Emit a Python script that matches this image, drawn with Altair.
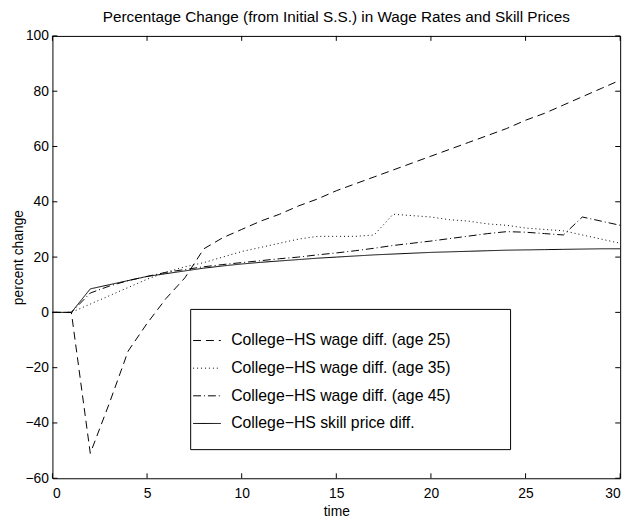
import altair as alt
import pandas as pd

times = list(range(0, 31))

age25 = [0, 0, -51, -33, -14, -4, 5, 12.5, 23, 27, 30, 33, 35.5, 38.5, 41, 44,
         46.5, 49, 51.5, 54, 56.5, 59, 61.5, 64, 66.5, 69.5, 72, 75, 78, 81, 84]
age35 = [0, 0, 3, 6, 9, 12, 14.5, 16.5, 18, 20, 22, 23.5, 25, 26.5, 27.5, 27.5,
         27.5, 28, 35.5, 35, 34.5, 33.5, 33, 32, 31.5, 30.5, 30, 29.5, 28, 26.5, 25]
age45 = [0, 0, 7, 9.5, 11.5, 13, 14.5, 15.5, 16.5, 17.3, 18, 18.7, 19.4, 20, 20.8,
         21.5, 22.3, 23.2, 24.2, 25, 25.8, 26.7, 27.6, 28.5, 29.2, 29, 28.5, 28,
         34.5, 33, 31.5]
skill = [0, 0, 8.5, 10, 11.5, 13, 14, 15, 16, 16.8, 17.5, 18.1, 18.6, 19.1, 19.6,
         20, 20.4, 20.8, 21.1, 21.4, 21.7, 21.9, 22.1, 22.3, 22.5, 22.6, 22.7,
         22.8, 22.9, 23, 23]

series_names = [
    "College\u2212HS wage diff. (age 25)",
    "College\u2212HS wage diff. (age 35)",
    "College\u2212HS wage diff. (age 45)",
    "College\u2212HS skill price diff.",
]
series_values = [age25, age35, age45, skill]

x_ticks = [0, 5, 10, 15, 20, 25, 30]
y_ticks = [-60, -40, -20, 0, 20, 40, 60, 80, 100]

rows = []
for name, vals in zip(series_names, series_values):
    for t, v in zip(times, vals):
        rows.append({"time": t, "value": v, "series": name})
df = pd.DataFrame(rows)

W, H = 575, 448
FONT = "Liberation Sans"

xscale = alt.Scale(domain=[0, 30], nice=False, zero=False)
yscale = alt.Scale(domain=[-60, 100], nice=False, zero=False)

lines = alt.Chart(df).mark_line(strokeWidth=1, color="black").encode(
    x=alt.X("time:Q", scale=xscale,
            axis=alt.Axis(values=x_ticks, title="time", grid=False, domain=False,
                          ticks=False, labelPadding=8, titlePadding=5)),
    y=alt.Y("value:Q", scale=yscale,
            axis=alt.Axis(values=y_ticks, title="percent change", grid=False,
                          domain=False, ticks=False, labelPadding=4, titlePadding=0)),
    strokeDash=alt.StrokeDash(
        "series:N",
        scale=alt.Scale(domain=series_names,
                        range=[[8, 5], [1, 3], [8, 3, 1, 3], [1, 0]]),
        legend=alt.Legend(title=None, orient="none", legendX=142, legendY=294,
                          symbolType="stroke", symbolSize=784, symbolStrokeWidth=1,
                          symbolStrokeColor="black", labelFontSize=16,
                          labelFont=FONT, labelColor="black", labelOffset=10,
                          labelLimit=0, rowPadding=5, padding=0),
    ),
)

legend_box = alt.Chart(alt.Data(values=[{}])).mark_rect(
    fill="white", stroke="black", strokeWidth=1
).encode(x=alt.value(140), x2=alt.value(464), y=alt.value(277), y2=alt.value(419))

xt = pd.DataFrame({"t": x_ticks})
yt = pd.DataFrame({"t": y_ticks})

tick_b = alt.Chart(xt).mark_rule(color="black", strokeWidth=1).encode(
    x=alt.X("t:Q", scale=xscale), y=alt.value(H), y2=alt.value(H - 5))
tick_t = alt.Chart(xt).mark_rule(color="black", strokeWidth=1).encode(
    x=alt.X("t:Q", scale=xscale), y=alt.value(0), y2=alt.value(5))
tick_l = alt.Chart(yt).mark_rule(color="black", strokeWidth=1).encode(
    y=alt.Y("t:Q", scale=yscale), x=alt.value(0), x2=alt.value(5))
tick_r = alt.Chart(yt).mark_rule(color="black", strokeWidth=1).encode(
    y=alt.Y("t:Q", scale=yscale), x=alt.value(W), x2=alt.value(W - 5))

chart = alt.layer(lines, legend_box, tick_b, tick_t, tick_l, tick_r).properties(
    width=W, height=H,
    autosize=alt.AutoSizeParams(type="none"),
    padding={"left": 45, "top": 25, "right": 14, "bottom": 39},
    title=alt.TitleParams(
        "Percentage Change (from Initial S.S.) in Wage Rates and Skill Prices",
        fontSize=15.5, fontWeight="normal", font=FONT, color="black",
        anchor="middle", offset=4),
).configure_view(stroke="black", strokeWidth=1).configure_axis(
    labelFont=FONT, labelFontSize=14, labelColor="black",
    titleFont=FONT, titleFontSize=14, titleColor="black", titleFontWeight="normal"
)

chart.save("out.html", embed_options={"renderer": "svg", "actions": False})
